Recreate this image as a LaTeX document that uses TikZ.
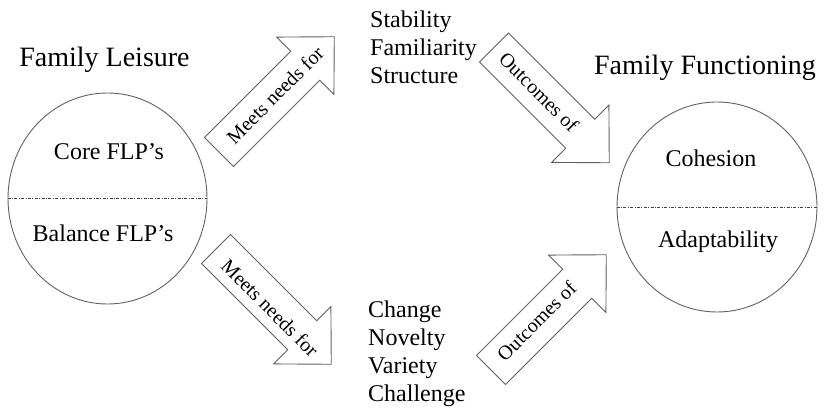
\documentclass[tikz,border=0pt]{standalone}
\usepackage{fontspec}
\setmainfont{LiberationSerif}[Extension=.ttf, UprightFont=*-Regular]
\usetikzlibrary{shapes.geometric}
\begin{document}
\begin{tikzpicture}[x=1pt,y=1pt,
  outline/.style={draw=black!62, line width=0.9pt},
  split/.style={draw=black!75, line width=0.6pt, dash pattern=on 3pt off 1.5pt on 0.8pt off 1.5pt},
  title/.style={font=\fontsize{28}{32}\selectfont, anchor=base, inner sep=0pt},
  body/.style={font=\fontsize{24}{28}\selectfont, anchor=base, inner sep=0pt},
  needs/.style={font=\fontsize{24}{28}\selectfont, align=left, anchor=north west, inner sep=0pt},
  arrowlabel/.style={font=\fontsize{20}{24}\selectfont, inner sep=0pt},
  realm/.style={outline, ellipse, inner sep=0pt},
  blockarrow/.pic={\draw[outline] (0,-20.5) -- (122,-20.5) -- (122,-40.5) -- (163,0)
      -- (122,40.5) -- (122,20.5) -- (0,20.5) -- cycle;}
]
\useasboundingbox (0,0) rectangle (827,412);

% the two domains
\node[realm, minimum width=199pt, minimum height=211pt] (leisure) at (107.5,213.5) {};
\node[realm, minimum width=200pt, minimum height=210pt] (functioning) at (717,205) {};
\draw[split] (leisure.west) -- (leisure.east);
\draw[split] (functioning.west) -- (functioning.east);

\node[title] (fl) at (104.5,345) {Family Leisure};
\node[title] (ff) at (705,337) {Family Functioning};
\node[body] (core) at (109,252) {Core FLP's};
\node[body] (balance) at (103,170) {Balance FLP's};
\node[body] (cohesion) at (711,245) {Cohesion};
\node[body] (adapt) at (718,164) {Adaptability};

% the needs met by each kind of pattern
\node[needs] (stable) at (370,401.5) {Stability\\Familiarity\\Structure};
\node[needs] (change) at (368,111.5) {Change\\Novelty\\Variety\\Challenge};

% block arrows with their labels
\pic[rotate=45] (upneeds) at (219,260) {blockarrow};
\node[arrowlabel, rotate=45] (lblupneeds) at (275,317) {Meets needs for};
\pic[rotate=-45] (downneeds) at (216,163) {blockarrow};
\node[arrowlabel, rotate=-45] (lbldownneeds) at (270,104) {Meets needs for};
\pic[rotate=-45] (downout) at (494,364.5) {blockarrow};
\node[arrowlabel, rotate=-45] (lbldownout) at (539,320) {Outcomes of};
\pic[rotate=45] (upout) at (491,42) {blockarrow};
\node[arrowlabel, rotate=45] (lblupout) at (536.5,91) {Outcomes of};
\end{tikzpicture}
\end{document}
